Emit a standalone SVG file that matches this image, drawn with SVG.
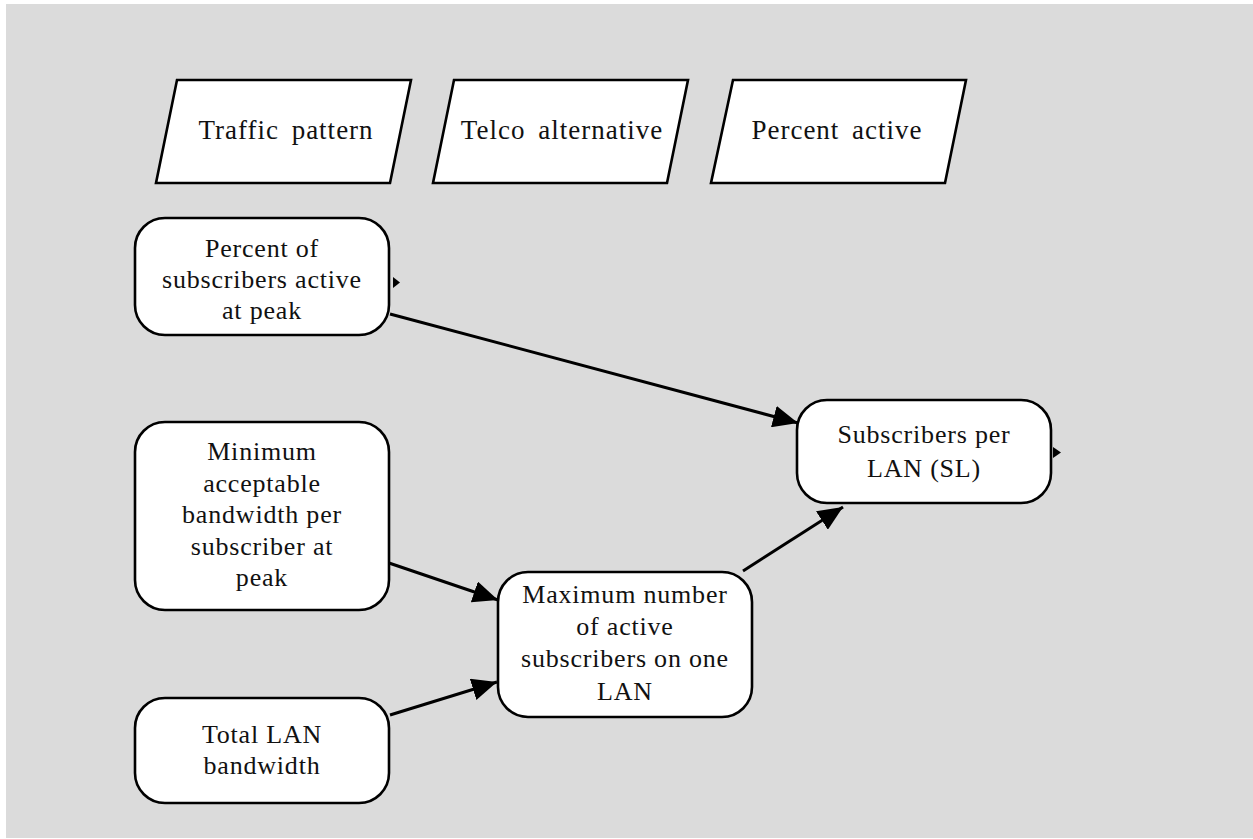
<svg xmlns="http://www.w3.org/2000/svg" width="1253" height="839" viewBox="0 0 1253 839">
<style>
.bg{fill:#dbdbdb}
.para{fill:#fff;stroke:#000;stroke-width:2.6;stroke-linejoin:miter}
.node{fill:#fff;stroke:#000;stroke-width:2.6}
.edge{stroke:#000;stroke-width:3;fill:none}
.stub{fill:#000}
.t1{font-family:"Liberation Serif",serif;font-size:27px;letter-spacing:1px;word-spacing:5px;fill:#111;text-anchor:middle}
.t2{font-family:"Liberation Serif",serif;font-size:26px;letter-spacing:0.8px;fill:#111;text-anchor:middle}
</style>
<defs>
<marker id="ah" markerUnits="userSpaceOnUse" markerWidth="26" markerHeight="22" refX="25" refY="11" orient="auto">
<path d="M0,0 L25,11 L0,22 z" fill="#000"/>
</marker>
</defs>
<rect class="bg" x="6" y="4" width="1247" height="834"/>
<g id="traffic-pattern">
<polygon class="para" points="177,80 411,80 390,183 156,183"/>
<text class="t1" x="286" y="139">Traffic pattern</text>
</g>
<g id="telco-alternative">
<polygon class="para" points="454,80 688,80 667,183 433,183"/>
<text class="t1" x="562" y="139">Telco alternative</text>
</g>
<g id="percent-active">
<polygon class="para" points="733,80 966,80 945,183 711,183"/>
<text class="t1" x="837" y="139">Percent active</text>
</g>
<g id="percent-subscribers-active">
<rect class="node" x="135" y="218" width="254" height="117" rx="30" ry="30"/>
<text class="t2" x="262" y="257">Percent of</text>
<text class="t2" x="262" y="288">subscribers active</text>
<text class="t2" x="262" y="319">at peak</text>
<polygon class="stub" points="393,277 400,282.5 393,288"/>
</g>
<g id="min-bandwidth">
<rect class="node" x="135" y="422" width="254" height="188" rx="30" ry="30"/>
<text class="t2" x="262" y="460">Minimum</text>
<text class="t2" x="262" y="492">acceptable</text>
<text class="t2" x="262" y="523">bandwidth per</text>
<text class="t2" x="262" y="555">subscriber at</text>
<text class="t2" x="262" y="586">peak</text>
</g>
<g id="total-lan-bandwidth">
<rect class="node" x="135" y="698" width="254" height="105" rx="30" ry="30"/>
<text class="t2" x="262" y="743">Total LAN</text>
<text class="t2" x="262" y="774">bandwidth</text>
</g>
<g id="max-active-subscribers">
<rect class="node" x="498" y="572" width="254" height="145" rx="30" ry="30"/>
<text class="t2" x="625" y="603">Maximum number</text>
<text class="t2" x="625" y="635">of active</text>
<text class="t2" x="625" y="667">subscribers on one</text>
<text class="t2" x="625" y="700">LAN</text>
</g>
<g id="subscribers-per-lan">
<rect class="node" x="797" y="400" width="254" height="103" rx="30" ry="30"/>
<text class="t2" x="924" y="443">Subscribers per</text>
<text class="t2" x="924" y="477">LAN (SL)</text>
<polygon class="stub" points="1053,447 1061,452.5 1053,458"/>
</g>
<g id="connectors">
<line class="edge" x1="390" y1="314" x2="798" y2="423" marker-end="url(#ah)"/>
<line class="edge" x1="389" y1="563" x2="498" y2="600" marker-end="url(#ah)"/>
<line class="edge" x1="390" y1="715" x2="497" y2="682" marker-end="url(#ah)"/>
<line class="edge" x1="743" y1="571" x2="843" y2="507" marker-end="url(#ah)"/>
</g>
</svg>
